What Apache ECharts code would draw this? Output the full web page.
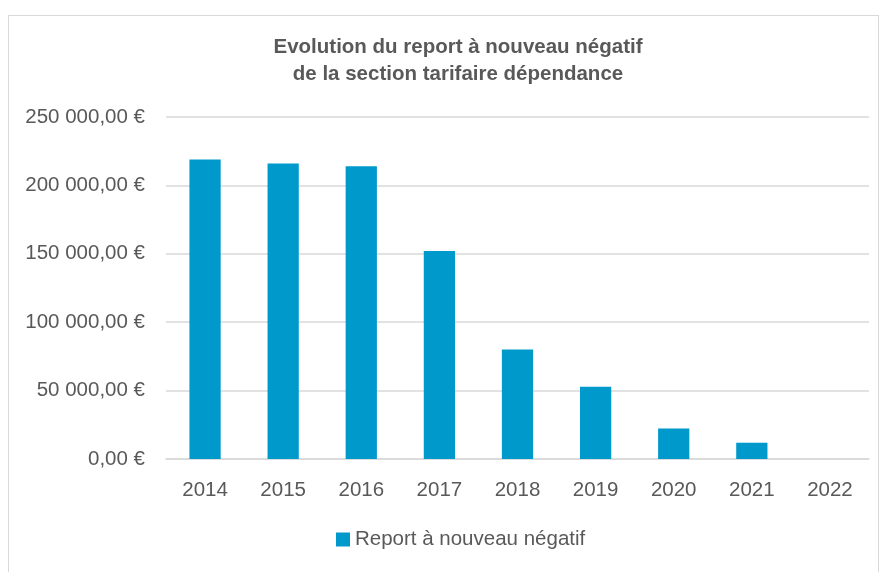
<!DOCTYPE html>
<html>
<head>
<meta charset="utf-8">
<script src="https://cdn.jsdelivr.net/npm/echarts@6/dist/echarts.min.js"></script>
<style>
  html, body { margin: 0; padding: 0; background: #fff; }
  #frame { position: absolute; left: 8px; top: 15px; width: 871px; height: 570px; border: 1.5px solid #d9d9d9; box-sizing: border-box; }
  #main { position: absolute; left: 0; top: 0; width: 883px; height: 572px; }
</style>
</head>
<body>
<div id="frame"></div>
<div id="main"></div>
<script>
// annees et montants
var years = ['2014', '2015', '2016', '2017', '2018', '2019', '2020', '2021', '2022'];
var reportNegatif = [219000, 216000, 214000, 152000, 80000, 52800, 22300, 11900, 0];
var seriesName = 'Report à nouveau négatif';

function euro(v) {
    var s = String(Math.round(v)).replace(/\B(?=(\d{3})+(?!\d))/g, ' ');
    return s + ',00 €';
}

var myChart = echarts.init(document.getElementById('main'));
var option = {
    animation: false,
    title: {
        text: 'Evolution du report à nouveau négatif\nde la section tarifaire dépendance',
        left: 453,
        top: 29,
        textAlign: 'center',
        textStyle: {
            fontFamily: 'Liberation Sans',
            fontSize: 20.5,
            fontWeight: 'bold',
            color: '#595959',
            lineHeight: 27
        }
    },
    legend: {
        data: [seriesName],
        bottom: 17,
        left: 331,
        itemWidth: 14,
        itemHeight: 14,
        icon: 'rect',
        textStyle: { fontFamily: 'Liberation Sans', fontSize: 20.5, color: '#595959' }
    },
    grid: {
        left: 166,
        right: 14,
        top: 117,
        bottom: 113,
        containLabel: false
    },
    xAxis: {
        type: 'category',
        data: years,
        axisLine: { lineStyle: { color: '#d9d9d9', width: 1.5 } },
        axisTick: { show: false },
        axisLabel: { fontFamily: 'Liberation Sans', fontSize: 20.5, color: '#595959', margin: 21 }
    },
    yAxis: {
        type: 'value',
        min: 0,
        max: 250000,
        interval: 50000,
        axisLine: { show: false },
        axisTick: { show: false },
        splitLine: { lineStyle: { color: '#d9d9d9', width: 1.5 } },
        axisLabel: {
            fontFamily: 'Liberation Sans',
            fontSize: 20.5,
            color: '#595959',
            margin: 21,
            formatter: euro
        }
    },
    series: [
        {
            name: seriesName,
            type: 'bar',
            barWidth: '40%',
            itemStyle: { color: '#0099CC' },
            data: reportNegatif
        }
    ]
};
myChart.setOption(option);
</script>
</body>
</html>
